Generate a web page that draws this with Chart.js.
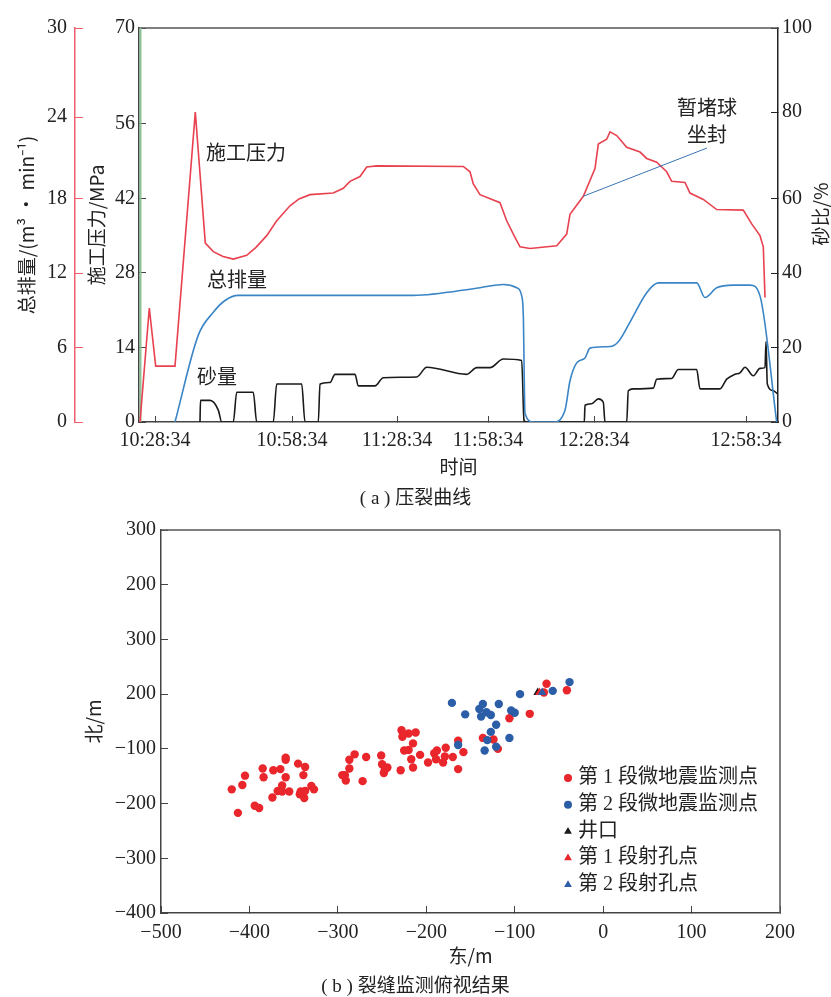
<!DOCTYPE html>
<html>
<head>
<meta charset="utf-8">
<script src="https://cdn.jsdelivr.net/npm/chart.js@4.4.0/dist/chart.umd.min.js"></script>
<style>
  body { margin: 0; background: #fff; width: 831px; height: 997px; position: relative; overflow: hidden; }
  #wrapA { position: absolute; left: 0; top: 0; width: 831px; height: 500px; }
  #wrapB { position: absolute; left: 0; top: 500px; width: 831px; height: 497px; }
  .cap { position: absolute; left: 0; width: 831px; text-align: center; font: 19px "Liberation Serif", "Noto Sans CJK SC", serif; color: #222; }
</style>
</head>
<body>
<div id="wrapA"><canvas id="fracChart" width="831" height="500"></canvas></div>
<div id="wrapB"><canvas id="mapChart" width="831" height="497"></canvas></div>
<div class="cap" style="top:482px">( a ) 压裂曲线</div>
<div class="cap" style="top:970px">( b ) 裂缝监测俯视结果</div>
<script>
// ---- (a) fracturing curves: x is the sample index of the log ----
const timeTicks = [16, 153, 258, 349, 455, 607];
const timeLabels = ["10:28:34", "10:58:34", "11:28:34", "11:58:34", "12:28:34", "12:58:34"];

const pressureTicks = [0, 14, 28, 42, 56, 74];
const pressureTickLabels = ["0", "14", "28", "42", "56", "70"];
const rateTicks = [0, 6, 12, 18, 24.56, 31.74];
const rateTickLabels = ["0", "6", "12", "18", "24", "30"];
const sandTicks = [0, 20, 40, 60, 83.2, 105.8];
const sandTickLabels = ["0", "20", "40", "60", "80", "100"];

// 施工压力, MPa
const pressureIdx = [1, 10.3, 16.7, 36, 56.3, 66.3, 74.3, 84, 94.3, 107.7, 117, 127.7, 137.7, 151, 160, 171, 194.3, 204.3,
  211, 221, 227.7, 237.7, 324.3, 331, 334.3, 341, 361, 367.7, 374.3, 381, 391, 417.7, 427.7, 431, 444.3, 456, 459.3,
  467.7, 471, 477.7, 487.7, 501, 507.7, 517.7, 527.7, 532.7, 546, 551, 564.3, 577.7, 604.3, 612.7, 621, 624.3, 626];
const pressure = [0, 21.4, 10.5, 10.5, 58.2, 33.6, 32.0, 31.1, 30.6, 31.3, 32.8, 35.0, 37.8, 40.6, 41.9, 42.7, 43.0, 43.9,
  45.2, 46.1, 47.9, 48.1, 48.0, 47.0, 44.7, 42.7, 41.2, 37.8, 35.3, 32.9, 32.6, 33.1, 35.3, 39.0, 42.4, 47.6, 52.2,
  53.1, 54.5, 53.8, 51.6, 50.7, 49.5, 48.8, 47.0, 45.2, 45.0, 43.0, 41.8, 39.9, 39.8, 37.2, 35.0, 32.9, 23.4];
const plugSeatIdx = 444.3; // 暂堵球坐封

// 总排量, m3/min
const rateIdx = [36, 59.3, 74.3, 86, 99.3, 274.3, 341, 364.3, 377.7, 382.7, 384.3, 386, 394.3, 414.3, 426, 431, 437.7,
  446, 451, 471, 479.3, 491, 507.7, 519.3, 557.7, 566, 577.7, 594.3, 611, 621, 637.7];
const rate = [0, 7.0, 8.84, 9.79, 10.2, 10.2, 10.82, 11.08, 10.82, 10.16, 8.61, 0.71, 0, 0, 0.95, 3.32, 4.76,
  5.16, 5.95, 6.08, 6.47, 8.05, 10.42, 11.21, 11.21, 10.03, 10.82, 11.03, 11.03, 10.16, 0];

// 砂量 (砂比 %)
const sandIdx = [61, 61.5, 71, 79.3, 82.7, 94.3, 97.7, 114.3, 117.7, 134.3, 137.7, 162.7, 166, 179.3, 181, 191, 196,
  216, 219.3, 236, 244.3, 277.7, 287.7, 327.7, 337.7, 351, 364.3, 382.7, 385, 387, 445.3, 446, 452.7, 459.3, 464.3,
  466, 487.7, 489.3, 494.3, 514.3, 517.7, 532.7, 539.3, 557.7, 561, 581, 587.7, 596, 601, 606, 614.3, 621, 626, 627,
  628.3, 634.3, 638.3];
const sand = [0, 5.8, 5.8, 3.2, 0, 0, 8.0, 8.0, 0, 0, 10.2, 10.2, 0, 0, 10.2, 10.6, 12.8,
  12.8, 9.7, 9.7, 11.9, 12.1, 14.7, 12.8, 14.6, 14.6, 16.9, 16.5, 0.5, 0, 0, 4.5, 4.9, 6.2, 5.3,
  0, 0, 8.4, 8.9, 9.1, 11.5, 11.7, 14.1, 14.1, 8.9, 8.9, 11.5, 12.8, 13.2, 14.7, 12.4, 14.4, 14.6, 21.6,
  10.2, 8.4, 7.6];

// ---- (b) microseismic map, metres ----
const eastTicks = [-500, -400, -300, -200, -100, 0, 100, 200];
const eastLabels = ["−500", "−400", "−300", "−200", "−100", "0", "100", "200"];
const northTicks = [300, 200, 100, 0, -100, -200, -300, -400];
const northLabels = ["300", "200", "300", "200", "−100", "−200", "−300", "−400"];

const stage1East = [-420, -413, -408, -405, -394, -389, -385, -384, -374, -373, -368, -365, -363, -363, -359, -359, -359,
  -355, -345, -343, -342, -339, -338, -337, -337, -330, -327, -295, -291, -292, -287, -287, -281, -272, -268, -251, -250,
  -248, -247, -244, -229, -228, -227, -220, -212, -215, -225, -220, -217, -215, -207, -198, -191, -188, -189, -181, -179,
  -178, -170, -164, -164, -158, -136, -124, -119, -106, -83, -64, -67, -41];
const stage1North = [-174, -217, -166, -149, -204, -208, -136, -152, -189, -139, -177, -137, -167, -178, -152, -116, -120,
  -178, -127, -183, -178, -148, -190, -133, -177, -168, -174, -148, -158, -148, -136, -120, -110, -159, -115, -112, -128,
  -144, -139, -134, -139, -66, -78, -72, -70, -90, -103, -102, -119, -134, -111, -125, -108, -103, -119, -125, -114,
  -98, -115, -137, -85, -106, -80, -83, -100, -44, -36, 19, 3, 7];
const stage2East = [-171, -156, -164, -140, -136, -138, -132, -127, -118, -121, -127, -131, -134, -121, -104, -100, -106,
  -94, -57, -38];
const stage2North = [-16, -37, -93, -27, -18, -41, -33, -38, -18, -56, -69, -84, -103, -96, -30, -34, -80, 0, 6, 22];
const wellheadEast = [-74];
const wellheadNorth = [3];
const perf1East = [-72];
const perf1North = [3];
const perf2East = [-69];
const perf2North = [3];

const RED = "#e8414f";
const BLUE = "#3a85c6";
const serif = "'Liberation Serif', 'Noto Sans CJK SC'";
const cjk = "'Noto Sans CJK SC', 'Liberation Serif'";
const tickFont = { family: serif, size: 20 };
const titleFont = { family: cjk, size: 19 };

function toPoints(xs, ys) {
  return xs.map((x, i) => ({ x: x, y: ys[i] }));
}

function fixedTicks(values) {
  return (scale) => {
    scale.ticks = values.map((v) => ({ value: v }));
  };
}

const topFrame = {
  id: "topFrame",
  beforeDatasetsDraw(chart) {
    const { ctx, chartArea } = chart;
    ctx.save();
    ctx.strokeStyle = "#555";
    ctx.lineWidth = 1.5;
    ctx.beginPath();
    ctx.moveTo(chartArea.left, chartArea.top);
    ctx.lineTo(chartArea.right, chartArea.top);
    if (chart.options.plugins.topFrame.right) {
      ctx.moveTo(chartArea.right, chartArea.top);
      ctx.lineTo(chartArea.right, chartArea.bottom);
    }
    ctx.stroke();
    ctx.restore();
  },
};

const curveNotes = {
  id: "curveNotes",
  afterDatasetsDraw(chart) {
    const { ctx, scales } = chart;
    ctx.save();
    // leader line from the plug seat point on the pressure curve
    const i = pressureIdx.indexOf(plugSeatIdx);
    const sx = scales.x.getPixelForValue(pressureIdx[i]);
    const sy = scales.yP.getPixelForValue(pressure[i]);
    ctx.strokeStyle = "#3a74b0";
    ctx.lineWidth = 1;
    ctx.beginPath();
    ctx.moveTo(sx, sy);
    ctx.lineTo(707, 148);
    ctx.stroke();

    ctx.fillStyle = "#222";
    ctx.font = "20px " + cjk;
    ctx.textBaseline = "middle";
    ctx.textAlign = "left";
    ctx.fillText("施工压力", 206, 152);
    ctx.fillText("总排量", 207, 279);
    ctx.fillText("砂量", 197, 376);
    ctx.textAlign = "center";
    ctx.fillText("暂堵球", 707, 107);
    ctx.fillText("坐封", 707, 134);

    // right axis title reads bottom to top
    ctx.translate(821, 214);
    ctx.rotate(-Math.PI / 2);
    ctx.font = "19px " + cjk;
    ctx.fillText("砂比/%", 0, 0);
    ctx.restore();
  },
};

function initFracChart() {
  const ctx = document.getElementById("fracChart").getContext("2d");
  new Chart(ctx, {
    type: "line",
    data: {
      datasets: [
        {
          label: "井口标记",
          data: toPoints([1.5, 1.5], [0, 74]),
          yAxisID: "yP",
          borderColor: "#8cc497",
          borderWidth: 2,
          pointRadius: 0,
          order: 9,
        },
        {
          label: "施工压力",
          data: toPoints(pressureIdx, pressure),
          yAxisID: "yP",
          borderColor: RED,
          borderWidth: 1.6,
          pointRadius: 0,
          tension: 0,
        },
        {
          label: "总排量",
          data: toPoints(rateIdx, rate),
          yAxisID: "yR",
          borderColor: BLUE,
          borderWidth: 1.6,
          pointRadius: 0,
          cubicInterpolationMode: "monotone",
        },
        {
          label: "砂量",
          data: toPoints(sandIdx, sand),
          yAxisID: "yS",
          borderColor: "#1a1a1a",
          borderWidth: 1.6,
          pointRadius: 0,
          cubicInterpolationMode: "monotone",
        },
      ],
    },
    options: {
      responsive: false,
      animation: false,
      layout: { padding: { top: 20, right: 0, left: 0, bottom: 0 } },
      plugins: {
        legend: { display: false },
        tooltip: { enabled: false },
        topFrame: { right: false },
      },
      scales: {
        x: {
          type: "linear",
          position: "bottom",
          min: 0,
          max: 639,
          afterBuildTicks: fixedTicks(timeTicks),
          afterFit: (s) => { s.height = 78; },
          ticks: {
            autoSkip: false,
            maxRotation: 0,
            padding: 13,
            color: "#222",
            font: tickFont,
            callback: (v, i) => timeLabels[i],
          },
          grid: { drawOnChartArea: false, tickLength: -6, color: "#444" },
          border: { color: "#444", width: 1.5 },
          title: { display: true, text: "时间", color: "#222", font: titleFont, padding: { top: 0, bottom: 22 } },
        },
        yP: {
          position: "left",
          weight: 0,
          min: 0,
          max: 74,
          afterBuildTicks: fixedTicks(pressureTicks),
          afterFit: (s) => { s.width = 64; },
          ticks: { autoSkip: false, padding: 11, color: "#222", font: tickFont, callback: (v, i) => pressureTickLabels[i] },
          grid: { drawOnChartArea: false, tickLength: -7, color: "#444" },
          border: { color: "#444", width: 1.5 },
          title: { display: true, text: "施工压力/MPa", color: "#222", font: titleFont, padding: { top: 10, bottom: 0 } },
        },
        yR: {
          position: "left",
          weight: 1,
          min: 0,
          max: 31.74,
          afterBuildTicks: fixedTicks(rateTicks),
          afterFit: (s) => { s.width = 75; },
          ticks: { autoSkip: false, padding: 16, color: "#222", font: tickFont, callback: (v, i) => rateTickLabels[i] },
          grid: { drawOnChartArea: false, tickLength: -8, color: "#f0606c" },
          border: { color: "#f0606c", width: 1.5 },
          title: { display: true, text: "总排量/(m³ · min⁻¹)", color: "#222", font: titleFont, padding: { top: 15, bottom: 0 } },
        },
        yS: {
          position: "right",
          min: 0,
          max: 105.8,
          afterBuildTicks: fixedTicks(sandTicks),
          afterFit: (s) => { s.width = 53; },
          ticks: { autoSkip: false, padding: 11, color: "#222", font: tickFont, callback: (v, i) => sandTickLabels[i] },
          grid: { drawOnChartArea: false, tickLength: -7, color: "#222" },
          border: { color: "#222", width: 1.5 },
        },
      },
    },
    plugins: [topFrame, curveNotes],
  });
}

const mapLegend = {
  id: "mapLegend",
  afterDraw(chart) {
    const { ctx } = chart;
    const rows = chart.options.plugins.mapLegend.rows;
    ctx.save();
    ctx.font = "20px " + serif;
    ctx.fillStyle = "#222";
    ctx.textBaseline = "middle";
    ctx.textAlign = "left";
    rows.forEach((dsIndex, r) => {
      const ds = chart.data.datasets[dsIndex];
      const y = 278 + r * 26.7;
      ctx.fillStyle = ds.backgroundColor;
      ctx.strokeStyle = ds.backgroundColor;
      Chart.helpers.drawPoint(ctx, { pointStyle: ds.pointStyle, radius: ds.pointStyle === "triangle" ? 4.5 : 4, rotation: 0, borderWidth: 0 }, 568, y);
      ctx.fillStyle = "#222";
      ctx.fillText(ds.label, 578, y);
    });
    ctx.restore();
  },
};

function initMapChart() {
  const ctx = document.getElementById("mapChart").getContext("2d");
  new Chart(ctx, {
    type: "scatter",
    data: {
      datasets: [
        { label: "第 1 段微地震监测点", data: toPoints(stage1East, stage1North), backgroundColor: "#e8262b", borderWidth: 0, pointRadius: 4.2, pointStyle: "circle", order: 5 },
        { label: "第 2 段微地震监测点", data: toPoints(stage2East, stage2North), backgroundColor: "#2c5ea8", borderWidth: 0, pointRadius: 4.2, pointStyle: "circle", order: 4 },
        { label: "井口", data: toPoints(wellheadEast, wellheadNorth), backgroundColor: "#1a1a1a", borderWidth: 0, pointRadius: 5, pointStyle: "triangle", order: 3 },
        { label: "第 1 段射孔点", data: toPoints(perf1East, perf1North), backgroundColor: "#e8262b", borderWidth: 0, pointRadius: 5, pointStyle: "triangle", order: 2 },
        { label: "第 2 段射孔点", data: toPoints(perf2East, perf2North), backgroundColor: "#2c5ea8", borderWidth: 0, pointRadius: 5, pointStyle: "triangle", order: 1 },
      ],
    },
    options: {
      responsive: false,
      animation: false,
      layout: { padding: { top: 30, right: 51, left: 0, bottom: 0 } },
      plugins: {
        legend: { display: false },
        tooltip: { enabled: false },
        topFrame: { right: true },
        mapLegend: { rows: [0, 1, 2, 3, 4] },
      },
      scales: {
        x: {
          type: "linear",
          min: -500,
          max: 200,
          afterBuildTicks: fixedTicks(eastTicks.slice()),
          afterFit: (s) => { s.height = 84; },
          ticks: { autoSkip: false, maxRotation: 0, padding: 15, color: "#222", font: tickFont, callback: (v) => eastLabels[eastTicks.indexOf(v)] },
          grid: { drawOnChartArea: false, tickLength: -7, color: "#444" },
          border: { color: "#444", width: 1.5 },
          title: { display: true, text: "东/m", color: "#222", font: titleFont, padding: { top: 0, bottom: 30 } },
        },
        y: {
          type: "linear",
          min: -400,
          max: 300,
          afterBuildTicks: fixedTicks(northTicks.slice().reverse()),
          afterFit: (s) => { s.width = 161; },
          ticks: { autoSkip: false, padding: 12, color: "#222", font: tickFont, callback: (v) => northLabels[northTicks.indexOf(v)] },
          grid: { drawOnChartArea: false, tickLength: -7, color: "#444" },
          border: { color: "#444", width: 1.5 },
          title: { display: true, text: "北/m", color: "#222", font: titleFont, padding: { top: 82, bottom: 0 } },
        },
      },
    },
    plugins: [topFrame, mapLegend],
  });
}

window.onload = function () {
  initFracChart();
  initMapChart();
};
</script>
</body>
</html>
